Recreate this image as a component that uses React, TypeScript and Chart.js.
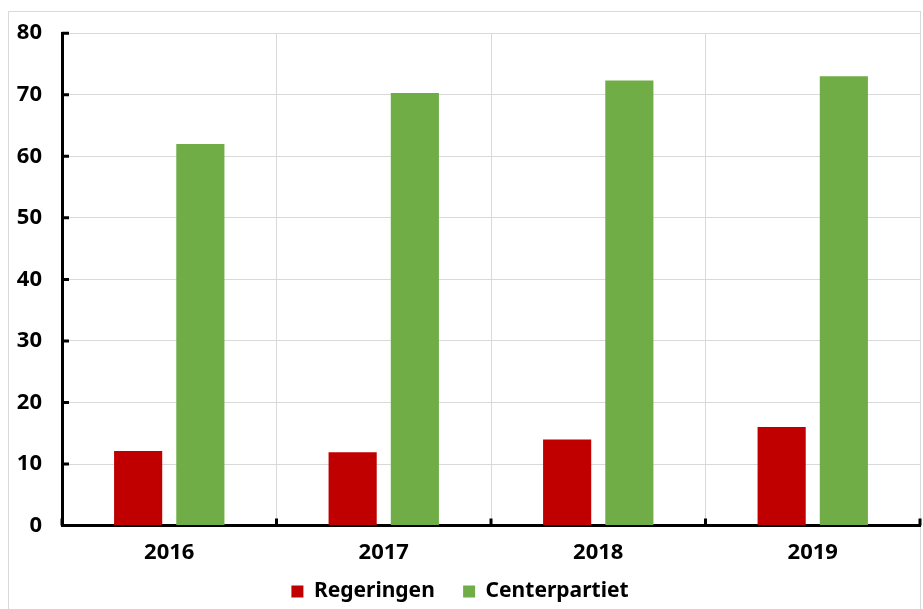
import React, { useEffect, useRef } from "react";
import { Chart, registerables } from "chart.js";

Chart.register(...registerables);

const categories = ["2016", "2017", "2018", "2019"];
const regeringen = [12.1, 11.9, 14.0, 16.0];
const centerpartiet = [62.0, 70.3, 72.3, 73.0];
const yTicks = [0, 10, 20, 30, 40, 50, 60, 70, 80];

const FONT = "'Noto Sans', 'Open Sans', sans-serif";

const innerTicks = {
  id: "innerTicks",
  afterDatasetsDraw(chart: any) {
    const { ctx, scales } = chart;
    const x = scales.x;
    const y = scales.y;
    ctx.save();
    ctx.strokeStyle = "#000";
    ctx.lineWidth = 3;
    ctx.beginPath();
    for (const v of yTicks) {
      const py = y.getPixelForValue(v);
      ctx.moveTo(x.left, py);
      ctx.lineTo(x.left + 7, py);
    }
    for (let i = 0; i <= categories.length; i++) {
      const px = x.getPixelForValue(i - 0.5);
      ctx.moveTo(px, y.bottom);
      ctx.lineTo(px, y.bottom - 7);
    }
    ctx.stroke();
    ctx.restore();
  },
};

export default function App() {
  const ref = useRef<HTMLCanvasElement>(null);
  useEffect(() => {
    const chart = new Chart(ref.current!, {
      type: "bar",
      data: {
        labels: categories,
        datasets: [
          {
            label: "Regeringen",
            data: regeringen,
            backgroundColor: "#C00000",
            categoryPercentage: 0.58,
            barPercentage: 0.774,
          },
          {
            label: "Centerpartiet",
            data: centerpartiet,
            backgroundColor: "#70AD47",
            categoryPercentage: 0.58,
            barPercentage: 0.774,
          },
        ],
      },
      options: {
        animation: false,
        responsive: false,
        layout: { padding: { top: 15, left: 0, right: 3, bottom: -3 } },
        plugins: {
          tooltip: { enabled: false },
          legend: {
            position: "bottom",
            labels: {
              boxWidth: 12,
              boxHeight: 12,
              color: "#000",
              padding: 1,
              font: { family: FONT, size: 21, weight: "bold" },
              generateLabels: (chart: any) => {
                const items = Chart.defaults.plugins.legend.labels.generateLabels(chart);
                return items.map((it: any, i: number) =>
                  i < items.length - 1 ? { ...it, text: it.text + "     " } : it
                );
              },
            },
          },
        },
        scales: {
          x: {
            offset: true,
            grid: { offset: true, color: "#d9d9d9", drawTicks: false },
            border: { color: "#000", width: 3 },
            ticks: {
              color: "#000",
              padding: 14,
              font: { family: FONT, size: 22, weight: "bold" },
            },
          },
          y: {
            min: 0,
            max: 80,
            afterFit: (s: any) => {
              s.width = 62;
            },
            grid: { color: "#d9d9d9", drawTicks: false },
            border: { color: "#000", width: 3 },
            ticks: {
              stepSize: 10,
              color: "#000",
              padding: 20,
              font: { family: FONT, size: 22, weight: "bold" },
            },
          },
        },
      },
      plugins: [innerTicks],
    });
    return () => chart.destroy();
  }, []);
  return (
    <div style={{ position: "fixed", left: 0, top: 0, width: 923, height: 609, background: "#fff" }}>
      <div
        style={{
          position: "absolute",
          left: 8,
          top: 11,
          width: 913,
          height: 610,
          border: "1px solid #d9d9d9",
          boxSizing: "border-box",
        }}
      />
      <canvas ref={ref} width={923} height={609} style={{ position: "absolute", left: 0, top: 0 }} />
    </div>
  );
}
